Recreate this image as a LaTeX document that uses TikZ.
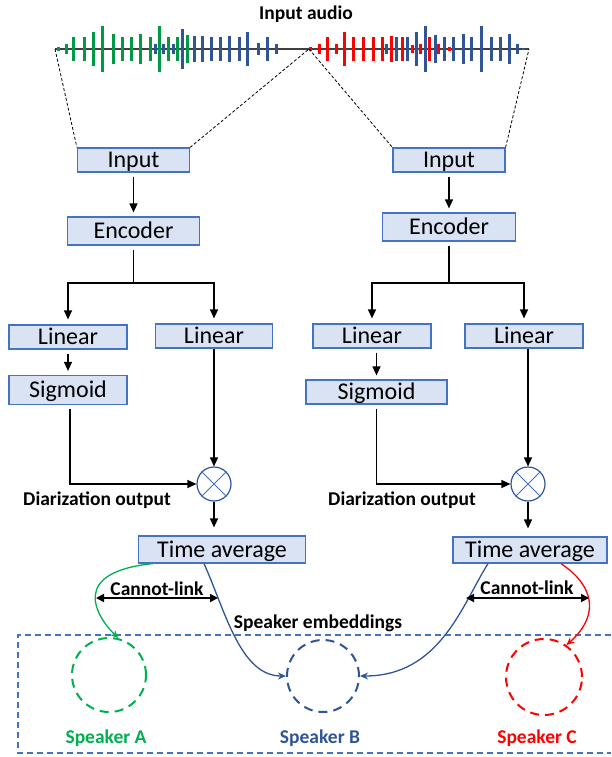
\documentclass[tikz,border=0pt]{standalone}
\usepackage{fontspec}
\setmainfont{Carlito}
\usetikzlibrary{arrows.meta, positioning}

\definecolor{boxfill}{HTML}{DAE3F3}
\definecolor{boxdraw}{HTML}{4472C4}
\definecolor{spkgreen}{HTML}{00B050}
\definecolor{spkblue}{HTML}{2F5597}
\definecolor{spkred}{HTML}{FF0000}
\definecolor{wavegreen}{HTML}{009A44}
\definecolor{waveblue}{HTML}{2F5597}

\begin{document}
\begin{tikzpicture}[x=1pt, y=-1pt,
	block/.style	={draw=boxdraw, fill=boxfill, line width=1.2pt, inner sep=0pt, text height=15.5pt, text depth=0pt, font=\fontsize{24}{28}\selectfont},
	tag/.style		={font=\fontsize{19.5}{22}\selectfont\bfseries},
	flow/.style		={-{Triangle[length=9pt,width=8pt]}, line width=1.3pt},
	mult/.style		={circle, draw=spkblue, line width=1.2pt, minimum size=34pt, inner sep=0pt},
	bar/.style		={line width=3pt},
	zoomline/.style	={densely dashed, line width=0.8pt},
	cluster/.style	={circle, dash pattern=on 9pt off 6pt, line width=2pt, inner sep=0pt},
	embed/.style	={-{Stealth[length=8pt,width=7pt]}, line width=1.3pt},
	link/.style		={{Triangle[length=8pt,width=8pt]}-{Triangle[length=8pt,width=8pt]}, line width=1.8pt},
	]
	\useasboundingbox (0,0) rectangle (611,757);

	% input waveform
	\node[tag]	(audio)	at (306,14)	{Input audio};
	\coordinate	(waveL)	at (55,49);
	\coordinate	(waveM)	at (309,49);
	\coordinate	(waveR)	at (529,49);
	\draw[line width=1.2pt, black!75] (waveL) -- (waveR);
	\foreach \x/\h in {58/2, 66/5, 73/12, 84/12, 93/17, 102/23, 113/15, 122/12, 131/12, 140/15, 150/12, 159/23, 168/12, 177/12, 187/14}
		\draw[bar, wavegreen] ({\x},{49-\h}) -- ({\x},{49+\h});
	\foreach \x/\h in {155/5, 163/5, 173/5, 182/20, 194/13, 202/13, 211/12, 220/12, 229/13, 239/12, 247/17, 258/6, 267/12, 276/5}
		\draw[bar, waveblue] ({\x},{49-\h}) -- ({\x},{49+\h});
	\foreach \x/\h in {386/5, 396/12, 407/12, 416/17, 425/23, 435/14, 444/12, 453/12, 463/15, 471/12, 481/23, 491/12, 500/12, 509/15, 517/5, 523/1}
		\draw[bar, waveblue] ({\x},{49-\h}) -- ({\x},{49+\h});
	\foreach \x/\h in {310/2, 319/5, 327/12, 336/5, 344/17, 353/12, 363/12, 373/12, 382/12, 391/13, 402/12, 412/4, 420/5, 429/12, 438/5, 449/2}
		\draw[bar, spkred] ({\x},{49-\h}) -- ({\x},{49+\h});

	% left branch
	\node[block, minimum width=112pt, minimum height=24pt]	(inA)	at (133.5,160)	{Input};
	\node[block, minimum width=132pt, minimum height=28pt]	(encA)	at (133.5,231)	{Encoder};
	\node[block, minimum width=118pt, minimum height=24pt]	(linA1)	at (68,337)		{Linear};
	\node[block, minimum width=117pt, minimum height=24pt]	(linA2)	at (214,336)	{Linear};
	\node[block, minimum width=118pt, minimum height=29pt]	(sigA)	at (68,390)		{Sigmoid};
	\node[mult]												(mulA)	at (214,484)	{};
	\node[tag]												(diaA)	at (97,500)		{Diarization output};
	\node[block, minimum width=167pt, minimum height=27pt]	(avgA)	at (222,549.5)	{Time average};
	\coordinate (splitA) at (133.5,283);

	% right branch
	\node[block, minimum width=112pt, minimum height=24pt]	(inB)	at (449,160)	{Input};
	\node[block, minimum width=133pt, minimum height=28pt]	(encB)	at (449,227)	{Encoder};
	\node[block, minimum width=118pt, minimum height=24pt]	(linB1)	at (372,336)	{Linear};
	\node[block, minimum width=118pt, minimum height=24pt]	(linB2)	at (524,336)	{Linear};
	\node[block, minimum width=141pt, minimum height=24pt]	(sigB)	at (376.5,392)	{Sigmoid};
	\node[mult]												(mulB)	at (528,484)	{};
	\node[tag]												(diaB)	at (402,500)	{Diarization output};
	\node[block, minimum width=154pt, minimum height=26pt]	(avgB)	at (530,550)	{Time average};
	\coordinate (splitB) at (449,283);

	\foreach \m in {mulA, mulB} {
		\draw[boxdraw, line width=0.9pt] (\m.north west) -- (\m.south east);
		\draw[boxdraw, line width=0.9pt] (\m.north east) -- (\m.south west);
	}

	% zoom lines
	\draw[zoomline] (waveL) -- (inA.north west);
	\draw[zoomline] (inA.north east) -- (waveM);
	\draw[zoomline] (waveM) -- (inB.north west);
	\draw[zoomline] (inB.north east) -- (waveR);

	\path[flow, shorten <=4pt, shorten >=4pt]
	(inA)								edge	(encA)
	(linA1)								edge	(sigA)
	(inB)								edge	(encB)
	(sigB.north |- linB1.south)			edge	(sigB.north);
	\path[flow]
	(linA2)								edge	(mulA)
	(mulB.north |- linB2.south)			edge	(mulB);
	\path[flow, shorten >=8pt]
	(mulA)								edge	(mulA |- avgA.north)
	(mulB)								edge	(mulB |- avgB.north);

	\draw[line width=1.3pt, shorten <=4pt] (encA) -- (splitA);
	\draw[flow, shorten >=5pt] (splitA) -| (linA1);
	\draw[flow, shorten >=5pt] (splitA) -| (linA2);
	\draw[line width=1.3pt, shorten <=4pt] (encB) -- (splitB);
	\draw[flow, shorten >=5pt] (splitB) -| (linB1);
	\draw[flow, shorten >=5pt] (splitB) -| (linB2);
	\draw[flow, shorten <=4pt] ([xshift=2pt]sigA.south) |- (mulA);
	\draw[flow, shorten <=4pt] (sigB.south) |- (mulB);

	% speaker embeddings
	\draw[boxdraw, line width=1.2pt, dash pattern=on 6pt off 4pt] (611,635) -| (18,753) -- (611,753);
	\node[tag]									(embed)		at (318,623)	{Speaker embeddings};
	\node[cluster, draw=spkgreen, minimum size=74pt]	(spkA)	at (109,675)	{};
	\node[cluster, draw=spkblue, minimum size=72pt]		(spkB)	at (323,676)	{};
	\node[cluster, draw=spkred, minimum size=76pt]		(spkC)	at (544,677)	{};
	\node[tag, text=spkgreen]					(nameA)		at (106,738)	{Speaker A};
	\node[tag, text=spkblue]					(nameB)		at (320,738)	{Speaker B};
	\node[tag, text=spkred]						(nameC)		at (537,738)	{Speaker C};

	\draw[embed, spkgreen]	([xshift=15pt]avgA.south west)	.. controls (70,572) and (95,615)	.. (spkA.76);
	\draw[embed, spkblue]	([xshift=-18pt]avgA.south)		.. controls (225,610) and (240,676)	.. (spkB.west);
	\draw[embed, spkblue]	([xshift=-42pt]avgB.south)		.. controls (462,605) and (440,676)	.. (spkB.east);
	\draw[embed, spkred]	([xshift=31pt]avgB.south)		.. controls (600,590) and (595,620)	.. (spkC.55);

	\node[tag]	(cannotA)	at (157,589)	{Cannot-link};
	\node[tag]	(cannotB)	at (527,588)	{Cannot-link};
	\coordinate	(cannotA1)	at (96,598);
	\coordinate	(cannotA2)	at (218,598);
	\coordinate	(cannotB1)	at (466,598);
	\coordinate	(cannotB2)	at (589,598);
	\draw[link] (cannotA1) -- (cannotA2);
	\draw[link] (cannotB1) -- (cannotB2);
\end{tikzpicture}
\end{document}
